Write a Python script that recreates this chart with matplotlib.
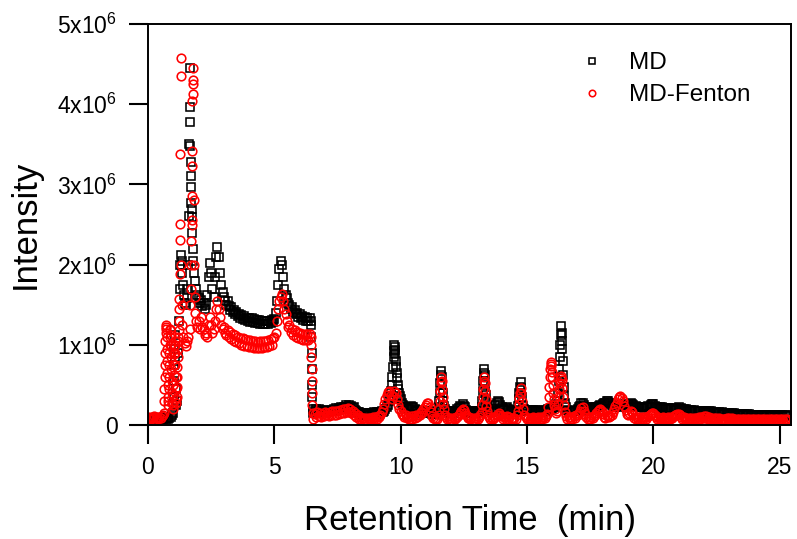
import matplotlib
matplotlib.use("Agg")
import matplotlib.pyplot as plt

plt.rcParams['font.family'] = ['Liberation Sans', 'DejaVu Sans']
plt.rcParams['mathtext.fontset'] = 'custom'
plt.rcParams['mathtext.rm'] = 'Liberation Sans'
plt.rcParams['mathtext.it'] = 'Liberation Sans:italic'

# ---- MD (black squares): retention time (min), intensity (x10^6)
md_time = [
    0.0, 0.05, 0.1, 0.15, 0.2, 0.25, 0.3, 0.35, 0.4, 0.45,
    0.5, 0.55, 0.6, 0.65, 0.7, 0.75, 0.8, 0.85, 0.9, 0.95,
    1.0, 1.01, 1.02, 1.03, 1.04, 1.05, 1.07, 1.09, 1.12, 1.15,
    1.2, 1.22, 1.25, 1.28, 1.3, 1.33, 1.36, 1.4, 1.43, 1.46,
    1.5, 1.53, 1.56, 1.6, 1.62, 1.64, 1.65, 1.66, 1.67, 1.68,
    1.69, 1.7, 1.71, 1.72, 1.73, 1.74, 1.76, 1.78, 1.8, 1.83,
    1.86, 1.9, 1.95,
    2.0, 2.05, 2.1, 2.15, 2.2, 2.25, 2.3, 2.35, 2.4, 2.45,
    2.5, 2.55, 2.6, 2.65, 2.7, 2.75, 2.8, 2.85, 2.9, 2.95,
    3.0, 3.05, 3.1, 3.15, 3.2, 3.25, 3.3, 3.35, 3.4, 3.45,
    3.5, 3.55, 3.6, 3.65, 3.7, 3.75, 3.8, 3.85, 3.9, 3.95,
    4.0, 4.05, 4.1, 4.15, 4.2, 4.25, 4.3, 4.35, 4.4, 4.45,
    4.5, 4.55, 4.6, 4.65, 4.7, 4.75, 4.8, 4.85, 4.9, 4.95,
    5.0, 5.05, 5.1, 5.15, 5.2, 5.25, 5.3, 5.35, 5.4, 5.45,
    5.5, 5.55, 5.6, 5.65, 5.7, 5.75, 5.8, 5.85, 5.9, 5.95,
    6.0, 6.05, 6.1, 6.15, 6.2, 6.25, 6.3, 6.35, 6.4, 6.45,
    6.46, 6.47, 6.48, 6.49, 6.5, 6.51, 6.52,
    6.55, 6.6, 6.65, 6.7, 6.75, 6.8, 6.85, 6.9, 6.95, 7.0,
    7.05, 7.1, 7.15, 7.2, 7.25, 7.3, 7.35, 7.4, 7.45, 7.5,
    7.55, 7.6, 7.65, 7.7, 7.75, 7.8, 7.85, 7.9, 7.95, 8.0,
    8.05, 8.1, 8.15, 8.2, 8.25, 8.3, 8.35, 8.4, 8.45, 8.5,
    8.55, 8.6, 8.65, 8.7, 8.75, 8.8, 8.85, 8.9, 8.95, 9.0,
    9.05, 9.1, 9.15, 9.2, 9.25, 9.3, 9.35, 9.4, 9.45, 9.5,
    9.55, 9.6, 9.63, 9.65, 9.67, 9.7, 9.72, 9.73, 9.75, 9.76,
    9.77, 9.78, 9.8, 9.82, 9.84, 9.86, 9.88, 9.9, 9.93, 9.96,
    10.0, 10.05, 10.1, 10.15, 10.2, 10.25, 10.3, 10.35, 10.4, 10.45,
    10.5, 10.55, 10.6, 10.65, 10.7, 10.75, 10.8, 10.85, 10.9, 10.95,
    11.0, 11.05, 11.1, 11.15, 11.2, 11.25, 11.3, 11.35, 11.4, 11.45,
    11.5, 11.53, 11.55, 11.57, 11.59, 11.6, 11.62, 11.64, 11.66, 11.68,
    11.7, 11.75, 11.8, 11.85, 11.9, 11.95, 12.0, 12.05, 12.1, 12.15,
    12.2, 12.25, 12.3, 12.35, 12.4, 12.45, 12.5, 12.55, 12.6, 12.65,
    12.7, 12.75, 12.8, 12.85, 12.9, 12.95, 13.0, 13.05, 13.1, 13.15,
    13.2, 13.23, 13.25, 13.27, 13.29, 13.3, 13.32, 13.34, 13.36, 13.38,
    13.4, 13.45, 13.5, 13.55, 13.6, 13.65, 13.7, 13.75, 13.8, 13.85,
    13.9, 13.95, 14.0, 14.05, 14.1, 14.15, 14.2, 14.25, 14.3, 14.35,
    14.4, 14.45, 14.5, 14.55, 14.6, 14.65, 14.68, 14.7, 14.72, 14.75,
    14.77, 14.8, 14.85, 14.9, 14.95, 15.0, 15.05, 15.1, 15.15, 15.2,
    15.25, 15.3, 15.35, 15.4, 15.45, 15.5, 15.55, 15.6, 15.65, 15.7,
    15.75, 15.8, 15.85, 15.9, 15.95, 16.0, 16.05, 16.1, 16.15, 16.2,
    16.23, 16.26, 16.28, 16.3, 16.32, 16.34, 16.35, 16.37, 16.39, 16.4,
    16.42, 16.44, 16.46, 16.48, 16.5, 16.55, 16.6, 16.65, 16.7, 16.75,
    16.8, 16.85, 16.9, 16.95, 17.0, 17.05, 17.1, 17.15, 17.2, 17.25,
    17.3, 17.35, 17.4, 17.45, 17.5, 17.55, 17.6, 17.65, 17.7, 17.75,
    17.8, 17.85, 17.9, 17.95, 18.0, 18.05, 18.1, 18.15, 18.2, 18.25,
    18.3, 18.35, 18.4, 18.45, 18.5, 18.55, 18.6, 18.65, 18.7, 18.75,
    18.8, 18.85, 18.9, 18.95, 19.0, 19.05, 19.1, 19.15, 19.2, 19.25,
    19.3, 19.35, 19.4, 19.45, 19.5, 19.55, 19.6, 19.65, 19.7, 19.75,
    19.8, 19.85, 19.9, 19.95, 20.0, 20.05, 20.1, 20.15, 20.2, 20.25,
    20.3, 20.35, 20.4, 20.45, 20.5, 20.55, 20.6, 20.65, 20.7, 20.75,
    20.8, 20.85, 20.9, 20.95, 21.0, 21.05, 21.1, 21.15, 21.2, 21.25,
    21.3, 21.35, 21.4, 21.45, 21.5, 21.55, 21.6, 21.65, 21.7, 21.75,
    21.8, 21.85, 21.9, 21.95, 22.0, 22.05, 22.1, 22.15, 22.2, 22.25,
    22.3, 22.35, 22.4, 22.45, 22.5, 22.55, 22.6, 22.65, 22.7, 22.75,
    22.8, 22.85, 22.9, 22.95, 23.0, 23.05, 23.1, 23.15, 23.2, 23.25,
    23.3, 23.35, 23.4, 23.45, 23.5, 23.55, 23.6, 23.65, 23.7, 23.75,
    23.8, 23.85, 23.9, 23.95, 24.0, 24.05, 24.1, 24.15, 24.2, 24.25,
    24.3, 24.35, 24.4, 24.45, 24.5, 24.55, 24.6, 24.65, 24.7, 24.75,
    24.8, 24.85, 24.9, 24.95, 25.0, 25.05, 25.1, 25.15, 25.2, 25.25,
    25.3,
]
md_intensity = [
    0.08, 0.09, 0.07, 0.09, 0.08, 0.09, 0.07, 0.09, 0.08, 0.09,
    0.08, 0.09, 0.07, 0.09, 0.08, 0.09, 0.08, 0.09, 0.10, 0.12,
    0.15, 0.35, 0.55, 0.75, 0.95, 1.12, 0.80, 0.45, 0.25, 0.30,
    0.90, 1.30, 1.70, 2.00, 2.12, 2.05, 1.90, 1.75, 1.62, 1.52,
    1.50, 1.58, 1.70, 2.00, 2.60, 3.50, 4.45, 3.97, 3.78, 3.48,
    3.28, 3.11, 2.97, 2.77, 2.69, 2.59, 2.40, 2.20, 2.05, 1.90,
    1.80, 1.70, 1.62,
    1.58, 1.52, 1.56, 1.48, 1.52, 1.45, 1.50, 1.62, 1.85, 2.02,
    1.90, 1.70, 1.60, 1.85, 2.10, 2.22, 2.10, 1.90, 1.75, 1.66,
    1.60, 1.54, 1.50, 1.55, 1.48, 1.44, 1.47, 1.41, 1.44, 1.38,
    1.41, 1.36, 1.39, 1.34, 1.37, 1.32, 1.36, 1.31, 1.34, 1.30,
    1.34, 1.29, 1.33, 1.28, 1.32, 1.27, 1.31, 1.27, 1.31, 1.26,
    1.30, 1.26, 1.30, 1.26, 1.30, 1.26, 1.30, 1.27, 1.31, 1.28,
    1.32, 1.40, 1.55, 1.75, 1.95, 2.05, 2.00, 1.85, 1.70, 1.62,
    1.58, 1.52, 1.50, 1.45, 1.47, 1.41, 1.43, 1.38, 1.40, 1.35,
    1.38, 1.33, 1.36, 1.31, 1.35, 1.30, 1.34, 1.30, 1.33, 1.30,
    1.25, 1.10, 0.90, 0.70, 0.50, 0.35, 0.20,
    0.15, 0.17, 0.20, 0.18, 0.20, 0.17, 0.19, 0.16, 0.18, 0.17,
    0.19, 0.16, 0.18, 0.17, 0.19, 0.18, 0.20, 0.18, 0.21, 0.19,
    0.21, 0.20, 0.22, 0.20, 0.23, 0.22, 0.25, 0.23, 0.25, 0.23,
    0.24, 0.21, 0.22, 0.19, 0.18, 0.16, 0.16, 0.14, 0.15, 0.13,
    0.15, 0.13, 0.15, 0.13, 0.15, 0.13, 0.15, 0.14, 0.16, 0.14,
    0.16, 0.14, 0.16, 0.15, 0.17, 0.16, 0.18, 0.20, 0.22, 0.25,
    0.30, 0.35, 0.42, 0.50, 0.60, 0.72, 0.85, 0.92, 1.00, 0.97,
    0.93, 0.88, 0.80, 0.72, 0.65, 0.58, 0.50, 0.45, 0.40, 0.36,
    0.32, 0.28, 0.25, 0.23, 0.21, 0.22, 0.20, 0.23, 0.24, 0.22,
    0.23, 0.20, 0.19, 0.17, 0.18, 0.16, 0.17, 0.15, 0.16, 0.15,
    0.17, 0.16, 0.18, 0.16, 0.15, 0.14, 0.15, 0.14, 0.16, 0.17,
    0.22, 0.30, 0.40, 0.52, 0.62, 0.67, 0.60, 0.50, 0.40, 0.30,
    0.24, 0.20, 0.17, 0.16, 0.15, 0.16, 0.15, 0.17, 0.15, 0.17,
    0.18, 0.20, 0.21, 0.24, 0.23, 0.26, 0.24, 0.22, 0.19, 0.18,
    0.16, 0.17, 0.15, 0.17, 0.15, 0.17, 0.15, 0.17, 0.16, 0.18,
    0.22, 0.30, 0.42, 0.55, 0.65, 0.70, 0.62, 0.50, 0.38, 0.30,
    0.25, 0.20, 0.18, 0.17, 0.16, 0.18, 0.20, 0.25, 0.28, 0.30,
    0.29, 0.25, 0.22, 0.20, 0.19, 0.21, 0.22, 0.20, 0.19, 0.18,
    0.17, 0.18, 0.16, 0.18, 0.19, 0.24, 0.32, 0.40, 0.47, 0.53,
    0.46, 0.35, 0.24, 0.20, 0.18, 0.17, 0.19, 0.17, 0.19, 0.17,
    0.19, 0.18, 0.19, 0.17, 0.19, 0.17, 0.18, 0.16, 0.18, 0.17,
    0.19, 0.18, 0.20, 0.19, 0.21, 0.20, 0.22, 0.23, 0.26, 0.30,
    0.40, 0.55, 0.70, 0.85, 1.00, 1.12, 1.23, 1.15, 1.05, 0.95,
    0.80, 0.62, 0.48, 0.36, 0.28, 0.22, 0.19, 0.18, 0.17, 0.18,
    0.16, 0.18, 0.17, 0.19, 0.20, 0.22, 0.24, 0.27, 0.28, 0.25,
    0.22, 0.20, 0.19, 0.21, 0.22, 0.20, 0.21, 0.22, 0.21, 0.23,
    0.22, 0.24, 0.25, 0.24, 0.26, 0.27, 0.28, 0.30, 0.30, 0.28,
    0.27, 0.25, 0.24, 0.25, 0.23, 0.24, 0.23, 0.25, 0.26, 0.25,
    0.24, 0.25, 0.23, 0.24, 0.25, 0.26, 0.27, 0.26, 0.25, 0.23,
    0.24, 0.22, 0.23, 0.22, 0.23, 0.22, 0.23, 0.21, 0.22, 0.23,
    0.24, 0.23, 0.25, 0.26, 0.26, 0.24, 0.22, 0.23, 0.21, 0.22,
    0.21, 0.22, 0.20, 0.21, 0.21, 0.20, 0.21, 0.20, 0.21, 0.20,
    0.20, 0.19, 0.21, 0.20, 0.22, 0.20, 0.21, 0.19, 0.20, 0.19,
    0.20, 0.18, 0.19, 0.18, 0.19, 0.18, 0.19, 0.17, 0.18, 0.17,
    0.18, 0.17, 0.18, 0.17, 0.18, 0.16, 0.17, 0.16, 0.17, 0.16,
    0.17, 0.15, 0.16, 0.15, 0.16, 0.15, 0.16, 0.15, 0.16, 0.14,
    0.15, 0.14, 0.15, 0.14, 0.15, 0.14, 0.15, 0.14, 0.15, 0.13,
    0.14, 0.13, 0.14, 0.13, 0.14, 0.13, 0.14, 0.13, 0.14, 0.13,
    0.14, 0.12, 0.13, 0.12, 0.13, 0.12, 0.13, 0.12, 0.13, 0.12,
    0.13, 0.12, 0.13, 0.12, 0.12, 0.11, 0.12, 0.11, 0.12, 0.11,
    0.12, 0.11, 0.12, 0.11, 0.12, 0.11, 0.12, 0.11, 0.12, 0.11,
    0.12,
]

# ---- MD-Fenton (red circles)
fenton_time = [
    0.0, 0.05, 0.1, 0.15, 0.2, 0.25, 0.3, 0.35, 0.4, 0.45,
    0.5, 0.55, 0.6, 0.62, 0.64,
    0.65, 0.66, 0.67, 0.68, 0.69, 0.7, 0.71, 0.72, 0.73, 0.74,
    0.75, 0.76, 0.77, 0.78, 0.79, 0.8, 0.81, 0.82, 0.83, 0.84,
    0.85, 0.86, 0.87, 0.88, 0.89, 0.9, 0.91, 0.92, 0.93, 0.94,
    0.95, 0.96, 0.97, 0.98, 0.99, 1.0, 1.01, 1.02, 1.03, 1.04,
    1.05, 1.06, 1.07, 1.08, 1.09, 1.1, 1.11, 1.12, 1.13, 1.14,
    1.15, 1.16, 1.17, 1.18, 1.19, 1.2, 1.21, 1.22, 1.23, 1.24,
    1.25, 1.26, 1.27, 1.28, 1.29, 1.3, 1.32, 1.34,
    1.36, 1.4, 1.45, 1.5, 1.55, 1.6, 1.65, 1.68, 1.7, 1.71, 1.72, 1.73, 1.735,
    1.74, 1.745, 1.75, 1.76, 1.77, 1.78, 1.79, 1.8, 1.82, 1.84, 1.86, 1.88,
    1.9, 1.95,
    2.0, 2.05, 2.1, 2.15, 2.2, 2.25, 2.3, 2.35, 2.4, 2.45,
    2.5, 2.55, 2.6, 2.65, 2.7, 2.75, 2.8, 2.85, 2.9, 2.95,
    3.0, 3.05, 3.1, 3.15, 3.2, 3.25, 3.3, 3.35, 3.4, 3.45,
    3.5, 3.55, 3.6, 3.65, 3.7, 3.75, 3.8, 3.85, 3.9, 3.95,
    4.0, 4.05, 4.1, 4.15, 4.2, 4.25, 4.3, 4.35, 4.4, 4.45,
    4.5, 4.55, 4.6, 4.65, 4.7, 4.75, 4.8, 4.85, 4.9, 4.95,
    5.0, 5.05, 5.1, 5.15, 5.2, 5.25, 5.3, 5.35, 5.4, 5.45,
    5.5, 5.55, 5.6, 5.65, 5.7, 5.75, 5.8, 5.85, 5.9, 5.95,
    6.0, 6.05, 6.1, 6.15, 6.2, 6.25, 6.3, 6.35, 6.4, 6.45,
    6.46, 6.47, 6.48, 6.49, 6.5, 6.51, 6.52,
    6.55, 6.6, 6.65, 6.7, 6.75, 6.8, 6.85, 6.9, 6.95, 7.0,
    7.05, 7.1, 7.15, 7.2, 7.25, 7.3, 7.35, 7.4, 7.45, 7.5,
    7.55, 7.6, 7.65, 7.7, 7.75, 7.8, 7.85, 7.9, 7.95, 8.0,
    8.05, 8.1, 8.15, 8.2, 8.25, 8.3, 8.35, 8.4, 8.45, 8.5,
    8.55, 8.6, 8.65, 8.7, 8.75, 8.8, 8.85, 8.9, 8.95, 9.0,
    9.05, 9.1, 9.15, 9.2, 9.25, 9.3, 9.35, 9.4, 9.45, 9.5,
    9.55, 9.6, 9.65, 9.7, 9.75, 9.8, 9.85, 9.9, 9.95, 10.0,
    10.05, 10.1, 10.15, 10.2, 10.25, 10.3, 10.35, 10.4, 10.45, 10.5,
    10.55, 10.6, 10.65, 10.7, 10.75, 10.8, 10.85, 10.9, 10.95, 11.0,
    11.05, 11.1, 11.15, 11.2, 11.25, 11.3, 11.35, 11.4, 11.45, 11.5,
    11.53, 11.55, 11.57, 11.59, 11.6, 11.62, 11.64, 11.66, 11.68, 11.7,
    11.75, 11.8, 11.85, 11.9, 11.95, 12.0, 12.05, 12.1, 12.15, 12.2,
    12.25, 12.3, 12.35, 12.4, 12.45, 12.5, 12.55, 12.6, 12.65, 12.7,
    12.75, 12.8, 12.85, 12.9, 12.95, 13.0, 13.05, 13.1, 13.15, 13.2,
    13.23, 13.25, 13.27, 13.29, 13.3, 13.32, 13.34, 13.36, 13.38, 13.4,
    13.45, 13.5, 13.55, 13.6, 13.65, 13.7, 13.75, 13.8, 13.85, 13.9,
    13.95, 14.0, 14.05, 14.1, 14.15, 14.2, 14.25, 14.3, 14.35, 14.4,
    14.45, 14.5, 14.55, 14.6, 14.65, 14.68, 14.7, 14.72, 14.75, 14.77,
    14.8, 14.85, 14.9, 14.95, 15.0, 15.05, 15.1, 15.15, 15.2, 15.25,
    15.3, 15.35, 15.4, 15.45, 15.5, 15.55, 15.6, 15.65, 15.7, 15.75,
    15.8, 15.83, 15.86, 15.88, 15.9, 15.92, 15.94, 15.95, 15.97, 15.99,
    16.0, 16.02, 16.04, 16.06, 16.08, 16.1, 16.15, 16.2, 16.23, 16.26,
    16.28, 16.3, 16.33, 16.35, 16.37, 16.4, 16.43, 16.46, 16.5, 16.55,
    16.6, 16.65, 16.7, 16.75, 16.8, 16.85, 16.9, 16.95, 17.0, 17.05,
    17.1, 17.15, 17.2, 17.25, 17.3, 17.35, 17.4, 17.45, 17.5, 17.55,
    17.6, 17.65, 17.7, 17.75, 17.8, 17.85, 17.9, 17.95, 18.0, 18.05,
    18.1, 18.15, 18.2, 18.25, 18.3, 18.35, 18.4, 18.45, 18.5, 18.55,
    18.6, 18.65, 18.7, 18.75, 18.8, 18.85, 18.9, 18.95, 19.0, 19.05,
    19.1, 19.15, 19.2, 19.25, 19.3, 19.35, 19.4, 19.45, 19.5, 19.55,
    19.6, 19.65, 19.7, 19.75, 19.8, 19.85, 19.9, 19.95, 20.0, 20.05,
    20.1, 20.15, 20.2, 20.25, 20.3, 20.35, 20.4, 20.45, 20.5, 20.55,
    20.6, 20.65, 20.7, 20.75, 20.8, 20.85, 20.9, 20.95, 21.0, 21.05,
    21.1, 21.15, 21.2, 21.25, 21.3, 21.35, 21.4, 21.45, 21.5, 21.55,
    21.6, 21.65, 21.7, 21.75, 21.8, 21.85, 21.9, 21.95, 22.0, 22.05,
    22.1, 22.15, 22.2, 22.25, 22.3, 22.35, 22.4, 22.45, 22.5, 22.55,
    22.6, 22.65, 22.7, 22.75, 22.8, 22.85, 22.9, 22.95, 23.0, 23.05,
    23.1, 23.15, 23.2, 23.25, 23.3, 23.35, 23.4, 23.45, 23.5, 23.55,
    23.6, 23.65, 23.7, 23.75, 23.8, 23.85, 23.9, 23.95, 24.0, 24.05,
    24.1, 24.15, 24.2, 24.25, 24.3, 24.35, 24.4, 24.45, 24.5, 24.55,
    24.6, 24.65, 24.7, 24.75, 24.8, 24.85, 24.9, 24.95, 25.0, 25.05,
    25.1, 25.15, 25.2, 25.25, 25.3,
]
fenton_intensity = [
    0.09, 0.10, 0.08, 0.10, 0.09, 0.11, 0.09, 0.10, 0.08, 0.10,
    0.09, 0.11, 0.12, 0.15, 0.30,
    0.45, 0.60, 0.75, 0.90, 1.05, 1.15, 1.22, 1.25, 1.20, 1.10,
    0.95, 0.80, 0.65, 0.50, 0.35, 0.25, 0.30, 0.45, 0.60, 0.75,
    0.90, 1.00, 1.10, 1.18, 1.20, 1.12, 1.00, 0.85, 0.70, 0.55,
    0.40, 0.28, 0.20, 0.25, 0.38, 0.50, 0.62, 0.75, 0.88, 0.98,
    1.05, 1.00, 0.90, 0.75, 0.60, 0.45, 0.32, 0.28, 0.35, 0.48,
    0.60, 0.72, 0.85, 0.95, 1.05, 1.10, 1.18, 1.30, 1.45, 1.57,
    1.88, 2.31, 2.51, 3.38, 4.35, 4.58, 2.00, 1.50,
    1.25, 1.10, 1.02, 0.98, 1.05, 1.10, 1.20, 1.50, 1.70, 2.00, 2.30, 2.49, 2.56,
    2.86, 3.23, 3.42, 4.04, 4.13, 4.25, 4.30, 4.45, 2.80, 2.00, 1.60, 1.40,
    1.30, 1.22,
    1.30, 1.20, 1.35, 1.22, 1.20, 1.12, 1.15, 1.10, 1.25, 1.35,
    1.25, 1.15, 1.20, 1.30, 1.45, 1.54, 1.45, 1.35, 1.25, 1.20,
    1.22, 1.15, 1.12, 1.18, 1.10, 1.16, 1.07, 1.13, 1.05, 1.12,
    1.03, 1.10, 1.02, 1.09, 1.00, 1.08, 0.99, 1.07, 0.98, 1.06,
    0.97, 1.06, 0.97, 1.05, 0.96, 1.05, 0.96, 1.04, 0.96, 1.05,
    0.96, 1.05, 0.97, 1.05, 0.97, 1.06, 0.98, 1.07, 1.00, 1.08,
    1.10, 1.15, 1.30, 1.45, 1.55, 1.60, 1.63, 1.55, 1.45, 1.38,
    1.30, 1.22, 1.25, 1.16, 1.20, 1.12, 1.18, 1.10, 1.16, 1.08,
    1.15, 1.07, 1.14, 1.06, 1.14, 1.06, 1.14, 1.06, 1.14, 1.10,
    1.00, 0.85, 0.70, 0.55, 0.40, 0.25, 0.15,
    0.08, 0.14, 0.10, 0.16, 0.11, 0.15, 0.10, 0.14, 0.11, 0.16,
    0.12, 0.15, 0.11, 0.16, 0.12, 0.17, 0.13, 0.17, 0.13, 0.18,
    0.14, 0.19, 0.15, 0.20, 0.15, 0.20, 0.16, 0.21, 0.16, 0.20,
    0.15, 0.18, 0.13, 0.15, 0.10, 0.12, 0.08, 0.10, 0.07, 0.09,
    0.06, 0.09, 0.06, 0.09, 0.07, 0.09, 0.07, 0.10, 0.07, 0.10,
    0.08, 0.11, 0.10, 0.13, 0.16, 0.20, 0.26, 0.32, 0.37, 0.41,
    0.42, 0.38, 0.32, 0.36, 0.42, 0.40, 0.32, 0.25, 0.20, 0.17,
    0.14, 0.12, 0.10, 0.12, 0.09, 0.10, 0.08, 0.11, 0.08, 0.11,
    0.09, 0.12, 0.10, 0.13, 0.12, 0.16, 0.15, 0.20, 0.22, 0.25,
    0.27, 0.28, 0.22, 0.16, 0.11, 0.09, 0.07, 0.09, 0.08, 0.12,
    0.20, 0.30, 0.42, 0.54, 0.60, 0.55, 0.45, 0.35, 0.26, 0.20,
    0.13, 0.10, 0.07, 0.09, 0.06, 0.09, 0.06, 0.09, 0.07, 0.10,
    0.10, 0.13, 0.15, 0.18, 0.20, 0.19, 0.15, 0.12, 0.09, 0.10,
    0.07, 0.09, 0.06, 0.09, 0.06, 0.09, 0.07, 0.10, 0.12, 0.16,
    0.25, 0.35, 0.45, 0.55, 0.60, 0.52, 0.42, 0.32, 0.24, 0.18,
    0.12, 0.10, 0.07, 0.09, 0.07, 0.10, 0.10, 0.13, 0.13, 0.15,
    0.12, 0.11, 0.08, 0.10, 0.08, 0.11, 0.08, 0.10, 0.07, 0.09,
    0.07, 0.09, 0.08, 0.12, 0.18, 0.26, 0.34, 0.40, 0.46, 0.40,
    0.30, 0.20, 0.13, 0.10, 0.07, 0.09, 0.07, 0.09, 0.07, 0.10,
    0.07, 0.09, 0.07, 0.10, 0.08, 0.10, 0.08, 0.10, 0.09, 0.11,
    0.14, 0.22, 0.35, 0.48, 0.60, 0.70, 0.76, 0.78, 0.74, 0.66,
    0.60, 0.50, 0.40, 0.32, 0.25, 0.20, 0.15, 0.18, 0.26, 0.36,
    0.45, 0.52, 0.58, 0.61, 0.56, 0.46, 0.35, 0.25, 0.16, 0.11,
    0.08, 0.10, 0.07, 0.10, 0.08, 0.11, 0.09, 0.12, 0.12, 0.15,
    0.18, 0.21, 0.22, 0.18, 0.14, 0.10, 0.08, 0.10, 0.08, 0.10,
    0.09, 0.11, 0.12, 0.15, 0.17, 0.19, 0.20, 0.17, 0.14, 0.10,
    0.09, 0.11, 0.12, 0.10, 0.11, 0.13, 0.16, 0.20, 0.24, 0.28,
    0.32, 0.35, 0.36, 0.34, 0.30, 0.24, 0.19, 0.14, 0.12, 0.15,
    0.18, 0.16, 0.12, 0.09, 0.08, 0.10, 0.08, 0.10, 0.08, 0.10,
    0.07, 0.10, 0.08, 0.10, 0.11, 0.13, 0.14, 0.15, 0.15, 0.12,
    0.10, 0.08, 0.10, 0.07, 0.09, 0.07, 0.10, 0.07, 0.09, 0.07,
    0.10, 0.08, 0.10, 0.09, 0.11, 0.12, 0.13, 0.14, 0.14, 0.12,
    0.10, 0.08, 0.10, 0.07, 0.09, 0.07, 0.09, 0.07, 0.09, 0.07,
    0.09, 0.07, 0.09, 0.08, 0.10, 0.08, 0.10, 0.09, 0.11, 0.09,
    0.11, 0.08, 0.10, 0.07, 0.09, 0.07, 0.09, 0.07, 0.09, 0.07,
    0.09, 0.06, 0.08, 0.06, 0.08, 0.07, 0.09, 0.07, 0.09, 0.07,
    0.09, 0.07, 0.08, 0.06, 0.08, 0.06, 0.08, 0.06, 0.08, 0.06,
    0.08, 0.06, 0.08, 0.06, 0.08, 0.06, 0.08, 0.06, 0.08, 0.06,
    0.08, 0.06, 0.07, 0.06, 0.07, 0.05, 0.07, 0.05, 0.07, 0.05,
    0.07, 0.05, 0.07, 0.05, 0.07, 0.05, 0.07, 0.05, 0.07, 0.05,
    0.07, 0.05, 0.07, 0.06, 0.07,
]

y_ticks = [0, 1, 2, 3, 4, 5]
y_tick_labels = ['0', '1x10$^{6}$', '2x10$^{6}$', '3x10$^{6}$', '4x10$^{6}$', '5x10$^{6}$']
x_ticks = [0, 5, 10, 15, 20, 25]

fig = plt.figure(figsize=(7.97, 5.39), dpi=100)
ax = fig.add_axes([148 / 797, 114 / 539, 643 / 797, 401 / 539])

ax.plot(md_time, md_intensity, ls='none', marker='s', ms=5.3, mfc='none',
        mec='black', mew=1.15, label='MD')
ax.plot(fenton_time, fenton_intensity, ls='none', marker='o', ms=6.2, mfc='none',
        mec='#ff0000', mew=1.15, label='MD-Fenton')

ax.set_xlim(0, 25.45)
ax.set_ylim(0, 5)
ax.set_xticks(x_ticks)
ax.set_yticks(y_ticks)
ax.set_yticklabels(y_tick_labels)

for s in ax.spines.values():
    s.set_linewidth(1.4)
ax.tick_params(axis='both', which='major', direction='out', length=14,
               width=1.5, color='black', labelsize=16.5, pad=8,
               bottom=True, left=True, top=False, right=False)

ax.set_xlabel('Retention Time  (min)', fontsize=25, labelpad=18)
ax.set_ylabel('Intensity', fontsize=25, labelpad=11)

leg = ax.legend(loc='upper left', bbox_to_anchor=(0.672, 0.93), frameon=False,
                fontsize=17.5, handlelength=1.0, handletextpad=1.0,
                labelspacing=0.42, borderpad=0, markerscale=0.75,
                borderaxespad=0)

fig.savefig('out.png', dpi=100)
